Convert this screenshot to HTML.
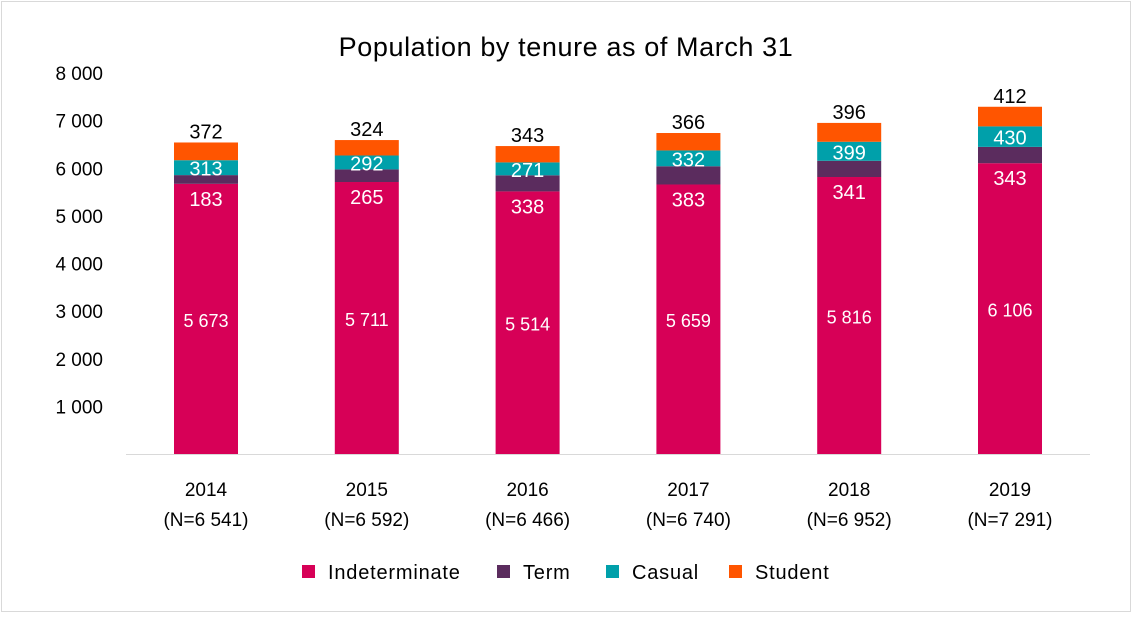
<!DOCTYPE html>
<html><head><meta charset="utf-8"><style>
body{margin:0;background:#fff;font-family:"Liberation Sans",sans-serif}
#wrap{position:relative;width:1132px;height:613px}
</style></head><body>
<div id="wrap">
<svg id="chart" width="1132" height="613">
<rect x="1.5" y="1.5" width="1129" height="610" fill="#fff" stroke="#d9d9d9"/>
<text x="566" y="56" text-anchor="middle" font-size="27" letter-spacing="0.6" fill="#000">Population by tenure as of March 31</text>
<line x1="126" y1="454.5" x2="1090" y2="454.5" stroke="#d9d9d9"/>
<g id="yaxis"></g>
<g id="bars"></g>
<g id="xaxis"></g>
<g id="legend"></g>
</svg>
</div>
<script>
const years=["2014","2015","2016","2017","2018","2019"];
const totals=["6 541","6 592","6 466","6 740","6 952","7 291"];
const indeterminate=[5673,5711,5514,5659,5816,6106];
const term=[183,265,338,383,341,343];
const casual=[313,292,271,332,399,430];
const student=[372,324,343,366,396,412];
const yTicks=[1000,2000,3000,4000,5000,6000,7000,8000];
const seriesNames=["Indeterminate","Term","Casual","Student"];
const colors=["#D70057","#5B2C5E","#00A0AA","#FF5500"];
const NS="http://www.w3.org/2000/svg";
const y0=454,pxPer=(454-73)/8000;
function y(v){return y0-v*pxPer;}
function x(i){return 206+i*160.8;}
const bw=64;
function fmt(v){return v>=1000?Math.floor(v/1000)+" "+String(v%1000).padStart(3,"0"):String(v);}
function mk(tag,attrs,parent){const e=document.createElementNS(NS,tag);for(const k in attrs)e.setAttribute(k,attrs[k]);parent.appendChild(e);return e;}
const ya=document.getElementById("yaxis");
yTicks.forEach(t=>{const e=mk("text",{x:103,y:y(t)+7,"text-anchor":"end","font-size":19,fill:"#000"},ya);


e.textContent=fmt(t);});
const bg=document.getElementById("bars");
const series=[indeterminate,term,casual,student];
years.forEach((yr,i)=>{let base=0;
series.forEach((s,k)=>{const v=s[i];
const r=mk("rect",{x:x(i)-bw/2,y:y(base+v),width:bw,height:y(base)-y(base+v),fill:colors[k]},bg);


let ly,col="#fff";
if(k===0)ly=(y(base)+y(base+v))/2+8;
else if(k===1)ly=y(base)+22;
else if(k===2)ly=(y(base)+y(base+v))/2+8;
else{ly=y(base+v)-4;col="#000";}
const t=mk("text",{x:x(i),y:ly,"text-anchor":"middle","font-size":k===0?18:20,fill:col},bg);


t.textContent=fmt(v);
base+=v;});});
const xa=document.getElementById("xaxis");
years.forEach((yr,i)=>{const a=mk("text",{x:x(i),y:496,"text-anchor":"middle","font-size":19,fill:"#000"},xa);


a.textContent=yr;
const b=mk("text",{x:x(i),y:526,"text-anchor":"middle","font-size":19,fill:"#000"},xa);


b.textContent="(N="+totals[i]+")";});
const lg=document.getElementById("legend");
const lx=[302,497,606,729];
seriesNames.forEach((n,k)=>{const r=mk("rect",{x:lx[k],y:565,width:13,height:13,fill:colors[k]},lg);


const t=mk("text",{x:lx[k]+26,y:579,"font-size":20,"letter-spacing":0.8,fill:"#000"},lg);


t.textContent=n;});
</script>
</body></html>
